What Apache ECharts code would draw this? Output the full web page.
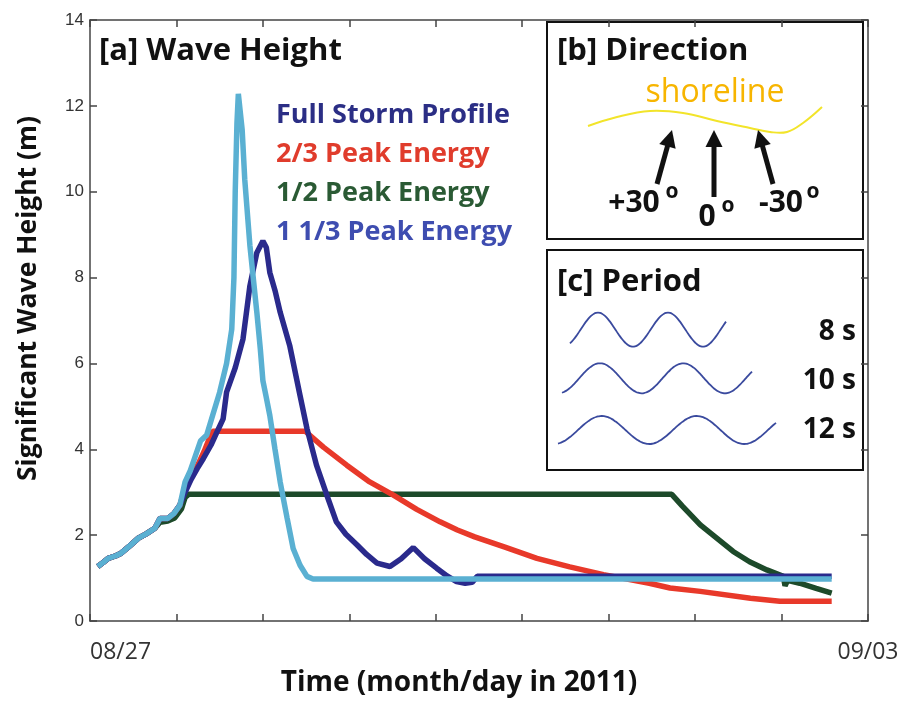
<!DOCTYPE html>
<html><head><meta charset="utf-8">
<script src="https://cdn.jsdelivr.net/npm/echarts@6/dist/echarts.min.js"></script>
<style>html,body{margin:0;padding:0;background:#fff}#c{width:902px;height:702px}</style>
</head><body><div id="c"></div>
<script>
// x in axis-tick units (0 = 08/27 ... 9 = 09/03), y in metres
const xTickLabels = ['08/27','','','','','','','','','09/03'];
const seriesNames = ['Full Storm Profile','2/3 Peak Energy','1/2 Peak Energy','1 1/3 Peak Energy'];

const riseX = [0.09,0.15,0.21,0.30,0.36,0.46,0.56,0.65,0.75,0.81,0.90,0.97,1.04];
const riseY = [1.27,1.36,1.46,1.52,1.58,1.75,1.93,2.03,2.16,2.39,2.39,2.50,2.70];

const fullX = [1.10,1.17,1.24,1.31,1.40,1.48,1.54,1.58,1.68,1.77,1.85,1.93,2.00,2.04,2.08,2.14,2.20,2.31,2.43,2.51,2.62,2.74,2.85,2.96,3.09,3.20,3.32,3.47,3.60,3.74,3.87,4.01,4.13,4.24,4.34,4.42,4.48,8.58];
const fullY = [3.00,3.30,3.55,3.78,4.10,4.45,4.71,5.33,5.90,6.57,7.81,8.58,8.85,8.70,8.12,7.70,7.19,6.42,5.25,4.48,3.63,2.93,2.31,2.02,1.77,1.55,1.35,1.27,1.45,1.71,1.45,1.23,1.05,0.92,0.88,0.90,1.04,1.04];

const twoThirdX = [1.10,1.17,1.25,1.32,1.38,1.42,2.49,2.70,2.97,3.22,3.51,3.78,4.05,4.25,4.45,4.80,5.17,5.55,5.94,6.47,6.71,7.06,7.64,7.98,8.58];
const twoThirdY = [3.10,3.35,3.65,3.95,4.25,4.42,4.42,4.05,3.63,3.26,2.93,2.60,2.31,2.12,1.96,1.72,1.46,1.26,1.08,0.88,0.77,0.69,0.53,0.46,0.46];

const halfX = [0.81,0.90,0.98,1.06,1.10,1.14,6.73,6.85,7.06,7.25,7.44,7.63,7.83,8.02,8.04,8.07,8.21,8.40,8.58];
const halfY = [2.30,2.33,2.40,2.62,2.88,2.95,2.95,2.68,2.24,1.93,1.62,1.38,1.19,1.04,0.82,0.95,0.88,0.76,0.65];

const fourThirdX = [1.10,1.16,1.22,1.28,1.35,1.42,1.50,1.58,1.64,1.665,1.68,1.70,1.716,1.76,1.79,1.85,1.93,1.97,2.00,2.04,2.08,2.14,2.20,2.28,2.35,2.43,2.51,2.58,8.58];
const fourThirdY = [3.24,3.50,3.85,4.20,4.33,4.80,5.33,6.00,6.80,8.00,10.00,11.60,12.28,11.45,10.29,8.74,7.19,6.34,5.60,5.20,4.79,4.00,3.24,2.40,1.69,1.30,1.04,0.98,0.98];

const lineColors = ['#2a2a8c','#e8392a','#1d4a2a','#5ab0d2'];
const textColors = ['#2b2e85','#e03c2c','#2a5a34','#3e4db0'];

function zip(xs, ys){ return xs.map((x,i)=>[x, ys[i]]); }
const dataFull = zip(riseX, riseY).concat(zip(fullX, fullY));
const dataTwo = zip(riseX, riseY).concat(zip(twoThirdX, twoThirdY));
const dataHalf = zip(riseX.slice(0,9), riseY.slice(0,9)).concat(zip(halfX, halfY));
const dataFour = zip(riseX, riseY).concat(zip(fourThirdX, fourThirdY));

const FONT = '"Open Sans", Lato, sans-serif';

function arrow(x1,y1,x2,y2){
  const dx=x2-x1, dy=y2-y1, L=Math.hypot(dx,dy), ux=dx/L, uy=dy/L;
  const hl=17, hw=8.5;
  const bx=x2-ux*hl, by=y2-uy*hl;
  return [
    {type:'line', z:1, shape:{x1:x1,y1:y1,x2:bx+ux*2,y2:by+uy*2}, style:{stroke:'#111', lineWidth:5}},
    {type:'polygon', z:1, shape:{points:[[x2,y2],[bx-uy*hw,by+ux*hw],[bx+uy*hw,by-ux*hw]]}, style:{fill:'#111'}}
  ];
}
function wave(xs, xe, peakX, period, c, amp){
  const pts=[];
  for(let x=xs; x<=xe+0.01; x+=2){ pts.push([x, c - amp*Math.cos(2*Math.PI*(x-peakX)/period)]); }
  return {type:'polyline', z:1, shape:{points:pts, smooth:0.3}, style:{stroke:'#3a4a9e', lineWidth:1.8, fill:null}};
}
function txt(x,y,text,size,opts){
  return {type:'text', z:1, x:x, y:y, style:Object.assign({text:text, fontSize:size, fontFamily:FONT, fontWeight:'bold', fill:'#111', textVerticalAlign:'middle'}, opts||{})};
}

const graphics = [
  {type:'rect', z:1, shape:{x:547,y:22,width:316,height:217}, style:{fill:'#fff', stroke:'#111', lineWidth:2}},
  {type:'rect', z:1, shape:{x:547,y:250,width:316,height:220}, style:{fill:'#fff', stroke:'#111', lineWidth:2}},
  txt(99,51,'[a] Wave Height',31),
  txt(557,51,'[b] Direction',31),
  txt(715,93,'shoreline',32,{fill:'#f7b500', fontWeight:'normal', textAlign:'center'}),
  {type:'polyline', z:1, shape:{points:[[588,126],[617,117],[650,111],[683,113],[717,121],[750,128],[770,132],[787,132],[803,123],[822,107]], smooth:0.4}, style:{stroke:'#f2e42a', lineWidth:2, fill:null}},
  ...arrow(657,184,672,130),
  ...arrow(714,197,714,130),
  ...arrow(773,184,758,130),
  txt(634,203,'+30',30,{textAlign:'center'}),
  txt(672,192,'o',21,{textAlign:'center'}),
  txt(707,217,'0',30,{textAlign:'center'}),
  txt(728,206,'o',21,{textAlign:'center'}),
  txt(781,203,'-30',30,{textAlign:'center'}),
  txt(813,192,'o',21,{textAlign:'center'}),
  txt(557,282,'[c] Period',31),
  wave(570,727,598,70,329.7,17),
  wave(562,752,600,83.3,378.3,15),
  wave(558,777,601.7,95,430,14),
  txt(856,332,'8 s',28,{textAlign:'right'}),
  txt(856,381,'10 s',28,{textAlign:'right'}),
  txt(856,430,'12 s',28,{textAlign:'right'})
];

const axisLineStyle = {color:'#444', width:1.5};
const chart = echarts.init(document.getElementById('c'), null, {renderer:'canvas'});
chart.setOption({
  animation:false,
  backgroundColor:'#fff',
  grid:{left:90, right:34, top:20, bottom:79},
  legend:{
    left:266, top:96, orient:'vertical', icon:'none', itemWidth:0, itemHeight:28, itemGap:11,
    selectedMode:false,
    textStyle:{fontSize:27, fontWeight:'bold', fontFamily:FONT, lineHeight:28},
    data: seriesNames.map((n,i)=>({name:n, textStyle:{color:textColors[i], fontSize:27, fontWeight:'bold', fontFamily:FONT, lineHeight:28}}))
  },
  xAxis:[
    {type:'value', position:'bottom', min:0, max:9, interval:1, z:5,
     name:'Time (month/day in 2011)', nameLocation:'middle', nameGap:48,
     nameTextStyle:{fontSize:28, fontWeight:'bold', fontFamily:FONT, color:'#111', padding:[0,40,0,0]},
     axisLine:{show:true, onZero:false, lineStyle:axisLineStyle},
     axisTick:{show:true, inside:true, length:7, lineStyle:axisLineStyle},
     splitLine:{show:false},
     axisLabel:{show:true, margin:20, fontSize:23, color:'#333', fontFamily:FONT, alignMinLabel:'left',
       formatter:(v)=>xTickLabels[Math.round(v)] || ''}},
    {type:'value', position:'top', min:0, max:9, interval:1, z:5,
     axisLine:{show:true, onZero:false, lineStyle:axisLineStyle},
     axisTick:{show:true, inside:true, length:7, lineStyle:axisLineStyle},
     splitLine:{show:false}, axisLabel:{show:false}}
  ],
  yAxis:[
    {type:'value', position:'left', min:0, max:14, interval:2, z:5,
     name:'Significant Wave Height (m)', nameLocation:'middle', nameGap:48,
     nameTextStyle:{fontSize:26.5, fontWeight:'bold', fontFamily:FONT, color:'#111', padding:[0,0,0,44]},
     axisLine:{show:true, onZero:false, lineStyle:axisLineStyle},
     axisTick:{show:true, inside:true, length:7, lineStyle:axisLineStyle},
     splitLine:{show:false},
     axisLabel:{margin:6, fontSize:17, color:'#333', fontFamily:'"Liberation Sans", Arial, sans-serif'}},
    {type:'value', position:'right', min:0, max:14, interval:2, z:5,
     axisLine:{show:true, onZero:false, lineStyle:axisLineStyle},
     axisTick:{show:true, inside:true, length:7, lineStyle:axisLineStyle},
     splitLine:{show:false}, axisLabel:{show:false}}
  ],
  series:[
    {name:seriesNames[2], type:'line', data:dataHalf, showSymbol:false, z:2, lineStyle:{width:5.5, color:lineColors[2]}, itemStyle:{color:lineColors[2]}},
    {name:seriesNames[1], type:'line', data:dataTwo, showSymbol:false, z:3, lineStyle:{width:5.5, color:lineColors[1]}, itemStyle:{color:lineColors[1]}},
    {name:seriesNames[0], type:'line', data:dataFull, showSymbol:false, z:4, lineStyle:{width:5.5, color:lineColors[0]}, itemStyle:{color:lineColors[0]}},
    {name:seriesNames[3], type:'line', data:dataFour, showSymbol:false, z:4, lineStyle:{width:5.5, color:lineColors[3]}, itemStyle:{color:lineColors[3]}}
  ],
  graphic:{elements:graphics}
});
</script></body></html>
